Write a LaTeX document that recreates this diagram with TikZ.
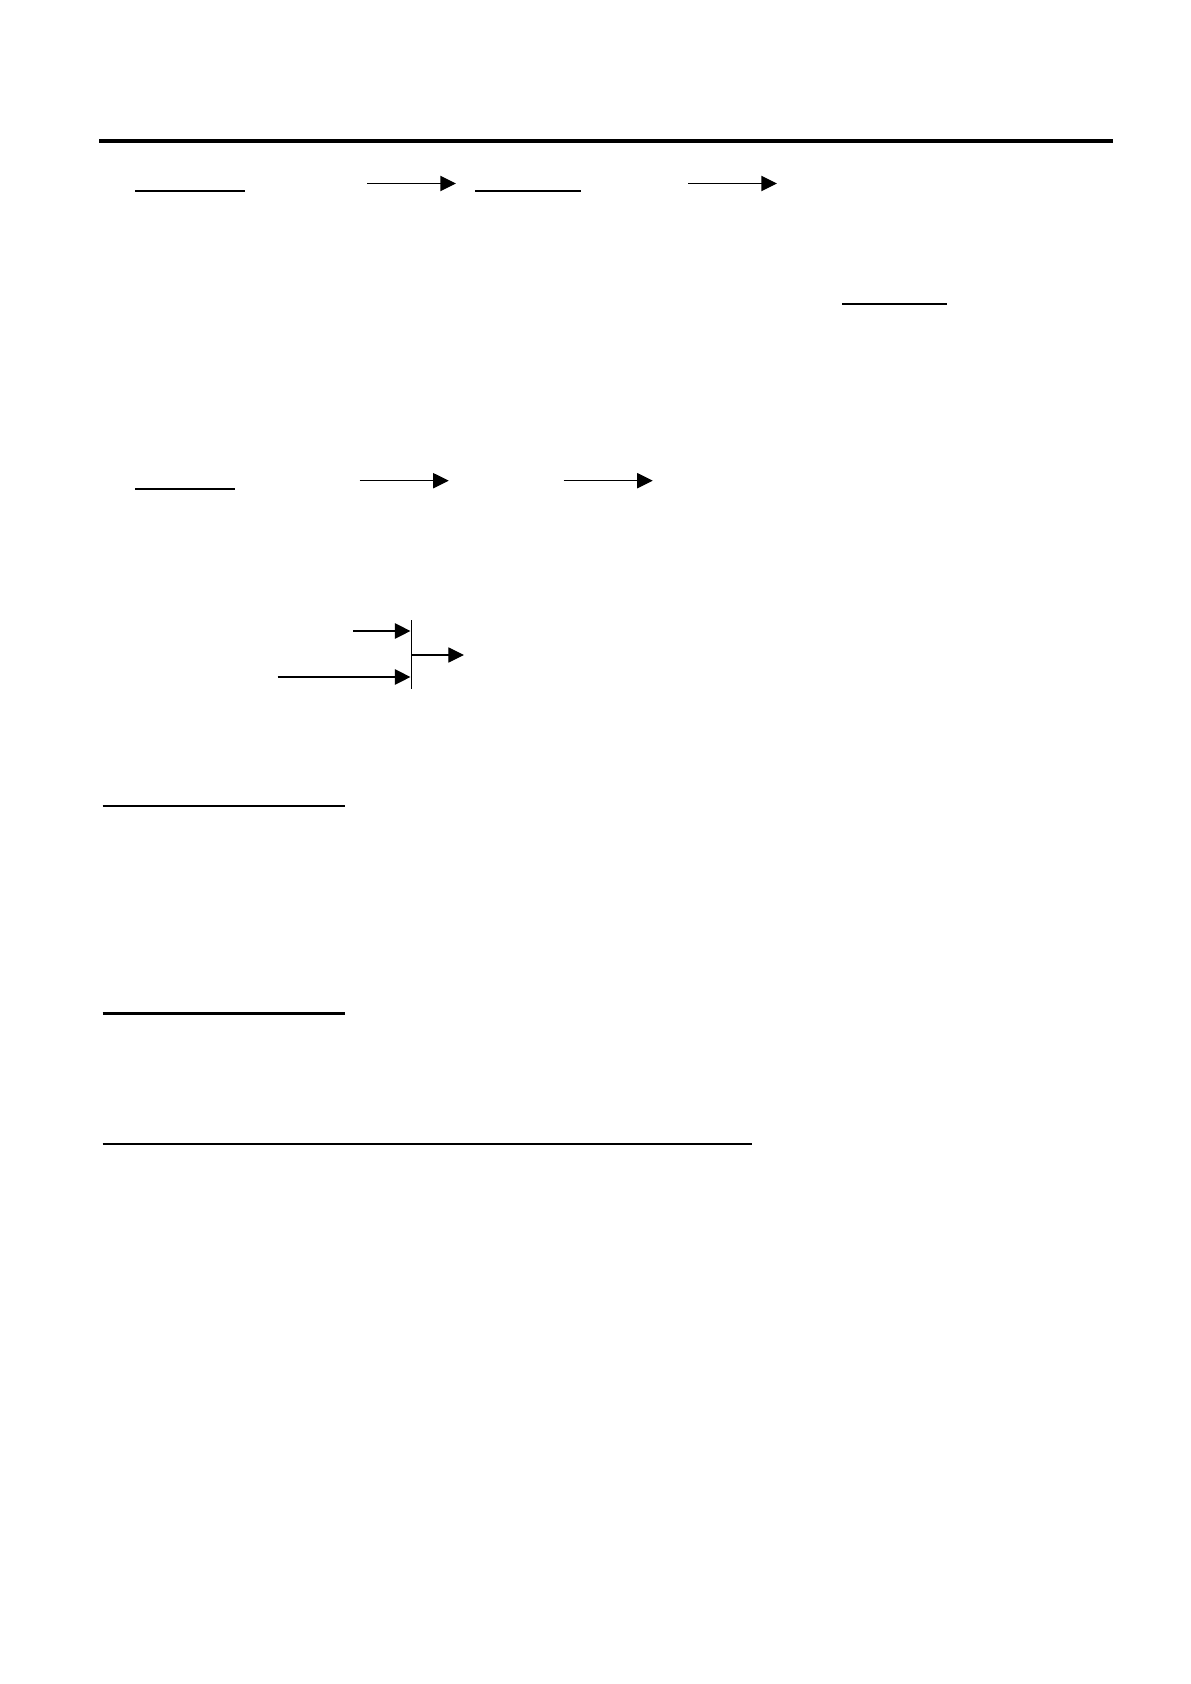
\documentclass[tikz,border=0pt]{standalone}
\usetikzlibrary{arrows.meta}
\begin{document}
\begin{tikzpicture}[x=0.5pt,y=-0.5pt,
  rulestyle/.style={line width=2pt},
  uline/.style={line width=0.7pt},
  ulmid/.style={line width=0.9pt},
  ulthick/.style={line width=1.15pt},
  tipshape/.style={-{Triangle[length=7.8pt,width=7.6pt]}},
  arr/.style={tipshape,line width=0.65pt},
  arrthick/.style={tipshape,line width=0.9pt},
  arrthin/.style={tipshape,line width=0.55pt},
  barstyle/.style={line width=0.75pt}]
\fill[white] (0,0) rectangle (1190,1684);
\useasboundingbox (0,0) rectangle (1190,1684);
% coordinates
\coordinate (r1) at (99,141);   \coordinate (r2) at (1113,141);
\coordinate (u1a) at (135,191); \coordinate (u1b) at (245,191);
\coordinate (a1a) at (367,183.5); \coordinate (a1b) at (456,183.5);
\coordinate (u2a) at (475,191); \coordinate (u2b) at (581,191);
\coordinate (a2a) at (688,183.5); \coordinate (a2b) at (777,183.5);
\coordinate (u3a) at (842,304); \coordinate (u3b) at (947,304);
\coordinate (u4a) at (135,489); \coordinate (u4b) at (235,489);
\coordinate (a3a) at (359.5,480.7); \coordinate (a3b) at (448.7,480.7);
\coordinate (a4a) at (563.5,480.7); \coordinate (a4b) at (652.7,480.7);
\coordinate (bart) at (411.5,620); \coordinate (barb) at (411.5,689);
\coordinate (a5a) at (353,631); \coordinate (a5b) at (410.5,631);
\coordinate (a6a) at (277.5,677); \coordinate (a6b) at (410.5,677);
\coordinate (a7a) at (411.5,655); \coordinate (a7b) at (464,655);
\coordinate (u5a) at (102.5,805.8); \coordinate (u5b) at (345,805.8);
\coordinate (u6a) at (102.5,1013.5); \coordinate (u6b) at (345,1013.5);
\coordinate (u7a) at (102.5,1144); \coordinate (u7b) at (752,1144);
% drawing
\draw[rulestyle] (r1) -- (r2);
\draw[uline] (u1a) -- (u1b);
\draw[arr] (a1a) -- (a1b);
\draw[uline] (u2a) -- (u2b);
\draw[arr] (a2a) -- (a2b);
\draw[ulmid] (u3a) -- (u3b);
\draw[ulthick] (u4a) -- (u4b);
\draw[arr] (a3a) -- (a3b);
\draw[arr] (a4a) -- (a4b);
\draw[barstyle] (bart) -- (barb);
\draw[arrthick] (a5a) -- (a5b);
\draw[arrthick] (a6a) -- (a6b);
\draw[arrthin] (a7a) -- (a7b);
\draw[ulthick] (u5a) -- (u5b);
\draw[ulthick] (u6a) -- (u6b);
\draw[ulthick] (u7a) -- (u7b);
\end{tikzpicture}
\end{document}
